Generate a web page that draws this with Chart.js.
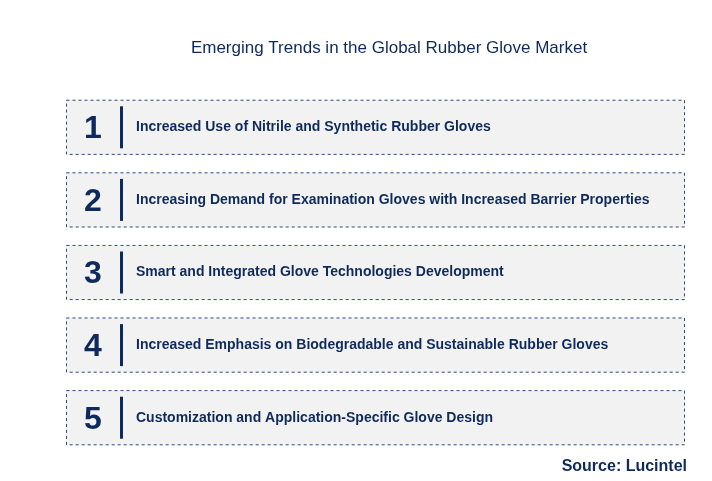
<!DOCTYPE html>
<html>
<head>
<meta charset="utf-8">
<script src="https://cdn.jsdelivr.net/npm/chart.js@4/dist/chart.umd.min.js"></script>
<style>
  body { margin: 0; background: #fff; }
  #wrap { width: 712px; height: 481px; }
</style>
</head>
<body>
<div id="wrap"><canvas id="chartTrends"></canvas></div>
<script>
const chartTitle = "Emerging Trends in the Global Rubber Glove Market";
const sourceText = "Source: Lucintel";
const trendNumbers = ["1", "2", "3", "4", "5"];
const trendLabels = [
  "Increased Use of Nitrile and Synthetic Rubber Gloves",
  "Increasing Demand for Examination Gloves with Increased Barrier Properties",
  "Smart and Integrated Glove Technologies Development",
  "Increased Emphasis on Biodegradable and Sustainable Rubber Gloves",
  "Customization and Application-Specific Glove Design",
];
const boxSpans = [[0, 1], [0, 1], [0, 1], [0, 1], [0, 1]];

const navy = "#0e2a5c";

const decorPlugin = {
  id: "decor",
  afterDatasetsDraw(chart) {
    const ctx = chart.ctx;
    const meta = chart.getDatasetMeta(0);
    ctx.save();
    meta.data.forEach((bar, i) => {
      const p = bar.getProps(["x", "y", "base", "height"], true);
      const left = p.base, right = p.x;
      const top = p.y - p.height / 2, bottom = p.y + p.height / 2;
      ctx.setLineDash([3, 3]);
      ctx.strokeStyle = "#2b4a86";
      ctx.lineWidth = 1;
      ctx.strokeRect(left + 0.5, top + 0.5, right - left - 1, bottom - top - 1);
      ctx.setLineDash([]);

      ctx.fillStyle = navy;
      ctx.font = "bold 32px Liberation Sans, Arial, sans-serif";
      ctx.textAlign = "center";
      ctx.textBaseline = "middle";
      ctx.fillText(trendNumbers[i], left + 27, p.y + 2);

      ctx.fillRect(left + 54, p.y - 21, 3, 42);

      ctx.font = "bold 14px Liberation Sans, Arial, sans-serif";
      ctx.textAlign = "left";
      ctx.fillText(trendLabels[i], left + 70, p.y);
    });

    ctx.fillStyle = navy;
    ctx.font = "17px Liberation Sans, Arial, sans-serif";
    ctx.textAlign = "center";
    ctx.textBaseline = "middle";
    ctx.fillText(chartTitle, 389, 48);

    ctx.font = "bold 16px Liberation Sans, Arial, sans-serif";
    ctx.textAlign = "right";
    ctx.fillText(sourceText, 687, 467);
    ctx.restore();
  },
};

new Chart(document.querySelector("#chartTrends"), {
  type: "bar",
  data: {
    labels: trendNumbers,
    datasets: [
      {
        data: boxSpans,
        backgroundColor: "#f2f2f2",
        borderWidth: 0,
        barPercentage: 0.76,
        categoryPercentage: 1,
      },
    ],
  },
  options: {
    indexAxis: "y",
    responsive: true,
    maintainAspectRatio: false,
    animation: false,
    layout: { padding: { top: 91, bottom: 27, left: 66, right: 27 } },
    scales: {
      x: { display: false, min: 0, max: 1 },
      y: { display: false },
    },
    plugins: {
      legend: { display: false },
      tooltip: { enabled: false },
    },
  },
  plugins: [decorPlugin],
});
</script>
</body>
</html>
